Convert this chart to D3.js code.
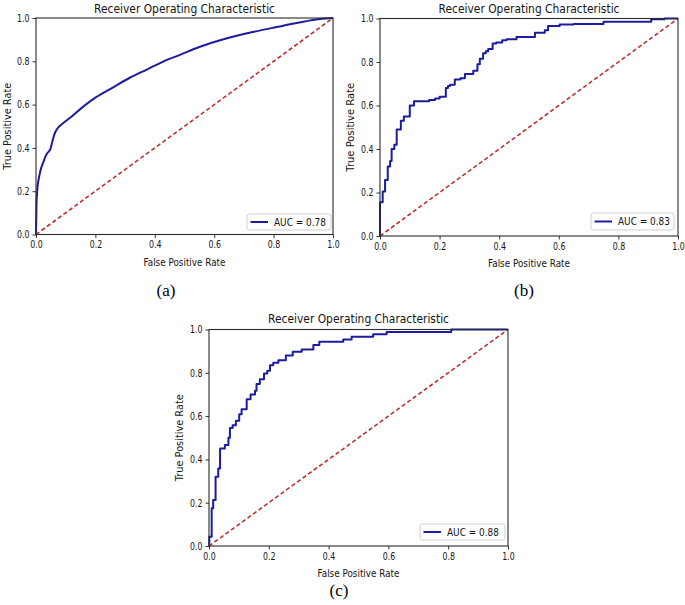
<!DOCTYPE html>
<html>
<head>
<meta charset="utf-8">
<script src="https://cdn.jsdelivr.net/npm/d3@7"></script>
<style>
  html, body { margin: 0; padding: 0; background: #fff; }
  svg { display: block; }
</style>
</head>
<body>
<div id="chart"></div>
<script>
// ---------------- data ----------------
const titleText = "Receiver Operating Characteristic";
const xLabelText = "False Positive Rate";
const yLabelText = "True Positive Rate";
const tickValues = [0, 0.2, 0.4, 0.6, 0.8, 1.0];
const tickLabels = ["0.0", "0.2", "0.4", "0.6", "0.8", "1.0"];
const captions = ["(a)", "(b)", "(c)"];
const aucLabels = ["AUC = 0.78", "AUC = 0.83", "AUC = 0.88"];
const chanceFpr = [0, 1];
const chanceTpr = [0, 1];

// panel (a): smooth ROC
const fprA = [0, 0.001, 0.002, 0.006, 0.011, 0.018, 0.025, 0.036, 0.047, 0.055, 0.064, 0.075, 0.092, 0.12, 0.154, 0.2, 0.26, 0.316, 0.373, 0.43, 0.485, 0.55, 0.64, 0.73, 0.81, 0.89, 0.955, 1.0];
const tprA = [0, 0.08, 0.15, 0.23, 0.27, 0.31, 0.335, 0.372, 0.39, 0.43, 0.47, 0.495, 0.515, 0.545, 0.585, 0.632, 0.68, 0.724, 0.762, 0.8, 0.83, 0.866, 0.905, 0.935, 0.958, 0.98, 0.995, 1.0];

// panel (b): stepped ROC (x where curve rises, y after rise)
const fprB = [0, 0, 0.009, 0.017, 0.026, 0.034, 0.039, 0.048, 0.056, 0.07, 0.08, 0.10, 0.114, 0.165, 0.185, 0.2, 0.221, 0.228, 0.235, 0.251, 0.27, 0.285, 0.313, 0.327, 0.335, 0.346, 0.355, 0.363, 0.378, 0.39, 0.41, 0.425, 0.458, 0.52, 0.553, 0.564, 0.603, 0.65, 0.75, 0.91, 0.955, 1.0];
const tprB = [0, 0.155, 0.205, 0.257, 0.32, 0.345, 0.40, 0.42, 0.49, 0.53, 0.55, 0.60, 0.62, 0.625, 0.632, 0.64, 0.68, 0.69, 0.695, 0.72, 0.725, 0.745, 0.76, 0.79, 0.815, 0.84, 0.85, 0.86, 0.885, 0.89, 0.90, 0.905, 0.915, 0.934, 0.946, 0.965, 0.972, 0.975, 0.985, 0.997, 1.0, 1.0];

// panel (c): stepped ROC
const fprC = [0, 0.001, 0.009, 0.014, 0.022, 0.031, 0.037, 0.053, 0.065, 0.07, 0.079, 0.09, 0.101, 0.109, 0.126, 0.139, 0.154, 0.159, 0.17, 0.184, 0.195, 0.204, 0.215, 0.232, 0.257, 0.28, 0.31, 0.349, 0.369, 0.449, 0.477, 0.549, 0.594, 0.81, 1.0];
const tprC = [0, 0.043, 0.174, 0.212, 0.32, 0.358, 0.45, 0.466, 0.50, 0.545, 0.558, 0.578, 0.608, 0.632, 0.678, 0.70, 0.717, 0.748, 0.77, 0.797, 0.81, 0.835, 0.847, 0.858, 0.88, 0.897, 0.908, 0.928, 0.943, 0.954, 0.966, 0.978, 0.989, 1.0, 1.0];

// ---------------- layout ----------------
const W = 685, H = 605;
const BLUE = "#1c1ca0";
const RED = "#b83232";
const FONT = "'DejaVu Sans', sans-serif";
const INK = "#151515";

const panels = [
  { fpr: fprA, tpr: tprA, step: false, auc: aucLabels[0], caption: captions[0],
    x0: 36, x1: 333, y0: 18, y1: 234.5, titleY: 12.5, yLabX: 10.5, yLabLen: 87,
    capX: 166, capY: 296, leg: { x: 247, y: 214, w: 84, h: 16 } },
  { fpr: fprB, tpr: tprB, step: true, auc: aucLabels[1], caption: captions[1],
    x0: 380, x1: 678, y0: 18.5, y1: 236, titleY: 12.5, yLabX: 354, yLabLen: 89,
    capX: 524, capY: 296, leg: { x: 591, y: 213, w: 83, h: 17 } },
  { fpr: fprC, tpr: tprC, step: true, auc: aucLabels[2], caption: captions[2],
    x0: 209, x1: 508, y0: 329.5, y1: 546, titleY: 323, yLabX: 183, yLabLen: 87,
    capX: 339, capY: 596, leg: { x: 420, y: 524, w: 85, h: 16 } }
];

const svg = d3.select("#chart").append("svg")
  .attr("width", W).attr("height", H)
  .attr("viewBox", `0 0 ${W} ${H}`);
svg.append("rect").attr("width", W).attr("height", H).attr("fill", "#fff");

panels.forEach(p => {
  const g = svg.append("g");
  const x = d3.scaleLinear().domain([0, 1]).range([p.x0, p.x1]);
  const y = d3.scaleLinear().domain([0, 1]).range([p.y1, p.y0]);

  // curves
  const pts = p.fpr.map((v, i) => [v, p.tpr[i]]);
  const line = d3.line().x(d => x(d[0])).y(d => y(d[1]))
    .curve(p.step ? d3.curveStepAfter : d3.curveCatmullRom.alpha(0.5));
  g.append("path").datum(pts).attr("d", line)
    .attr("fill", "none").attr("stroke", BLUE).attr("stroke-width", 2)
    .attr("stroke-linejoin", "round");

  const chance = chanceFpr.map((v, i) => [v, chanceTpr[i]]);
  g.append("path").datum(chance).attr("d", d3.line().x(d => x(d[0])).y(d => y(d[1])))
    .attr("fill", "none").attr("stroke", RED).attr("stroke-width", 1.6)
    .attr("stroke-dasharray", "4.2,2.6");

  // axes
  const xAxis = d3.axisBottom(x).tickValues(tickValues)
    .tickFormat((d, i) => tickLabels[i]).tickSize(3.5).tickPadding(3);
  const yAxis = d3.axisLeft(y).tickValues(tickValues)
    .tickFormat((d, i) => tickLabels[i]).tickSize(3.5).tickPadding(3);

  const gx = g.append("g").attr("transform", `translate(0,${p.y1})`).call(xAxis);
  const gy = g.append("g").attr("transform", `translate(${p.x0},0)`).call(yAxis);
  [gx, gy].forEach(ax => {
    ax.select(".domain").remove();
    ax.selectAll(".tick line").attr("stroke", "#333").attr("stroke-width", 1);
    ax.selectAll(".tick text").attr("fill", INK)
      .style("font-family", FONT).style("font-size", "10.5px")
      .attr("textLength", 12.5).attr("lengthAdjust", "spacingAndGlyphs");
  });
  // keep the last x tick label inside the page
  if (p.x1 + 7 > W) {
    gx.selectAll(".tick text").filter((d, i) => i === tickValues.length - 1)
      .attr("text-anchor", "end").attr("x", W - 3 - p.x1)
      .attr("textLength", 12);
  }

  // frame
  g.append("rect").attr("x", p.x0).attr("y", p.y0)
    .attr("width", p.x1 - p.x0).attr("height", p.y1 - p.y0)
    .attr("fill", "none").attr("stroke", "#2a2a2a").attr("stroke-width", 1.1);

  const cx = (p.x0 + p.x1) / 2;
  // title
  g.append("text").attr("x", cx).attr("y", p.titleY).attr("text-anchor", "middle")
    .style("font-family", FONT).style("font-size", "12.5px").attr("fill", INK)
    .attr("textLength", 181).attr("lengthAdjust", "spacingAndGlyphs")
    .text(titleText);
  // x label
  g.append("text").attr("x", cx).attr("y", p.y1 + 31).attr("text-anchor", "middle")
    .style("font-family", FONT).style("font-size", "11px").attr("fill", INK)
    .attr("textLength", 82).attr("lengthAdjust", "spacingAndGlyphs")
    .text(xLabelText);
  // y label
  const cy = (p.y0 + p.y1) / 2;
  g.append("text").attr("transform", `translate(${p.yLabX},${cy}) rotate(-90)`)
    .attr("text-anchor", "middle")
    .style("font-family", FONT).style("font-size", "11px").attr("fill", INK)
    .attr("textLength", p.yLabLen).attr("lengthAdjust", "spacingAndGlyphs")
    .text(yLabelText);

  // legend
  const L = p.leg;
  g.append("rect").attr("x", L.x).attr("y", L.y).attr("width", L.w).attr("height", L.h)
    .attr("rx", 2.5).attr("fill", "#fff").attr("fill-opacity", 0.85)
    .attr("stroke", "#cfcfcf").attr("stroke-width", 1);
  g.append("line").attr("x1", L.x + 3.5).attr("x2", L.x + 21)
    .attr("y1", L.y + L.h / 2).attr("y2", L.y + L.h / 2)
    .attr("stroke", BLUE).attr("stroke-width", 2);
  g.append("text").attr("x", L.x + 27).attr("y", L.y + L.h / 2 + 3.8)
    .style("font-family", FONT).style("font-size", "10.5px").attr("fill", INK)
    .attr("textLength", 52).attr("lengthAdjust", "spacingAndGlyphs")
    .text(p.auc);

  // caption
  svg.append("text").attr("x", p.capX).attr("y", p.capY).attr("text-anchor", "middle")
    .style("font-family", "'Liberation Serif', 'Times New Roman', serif")
    .style("font-size", "17px").attr("fill", "#000")
    .text(p.caption);
});
</script>
</body>
</html>
